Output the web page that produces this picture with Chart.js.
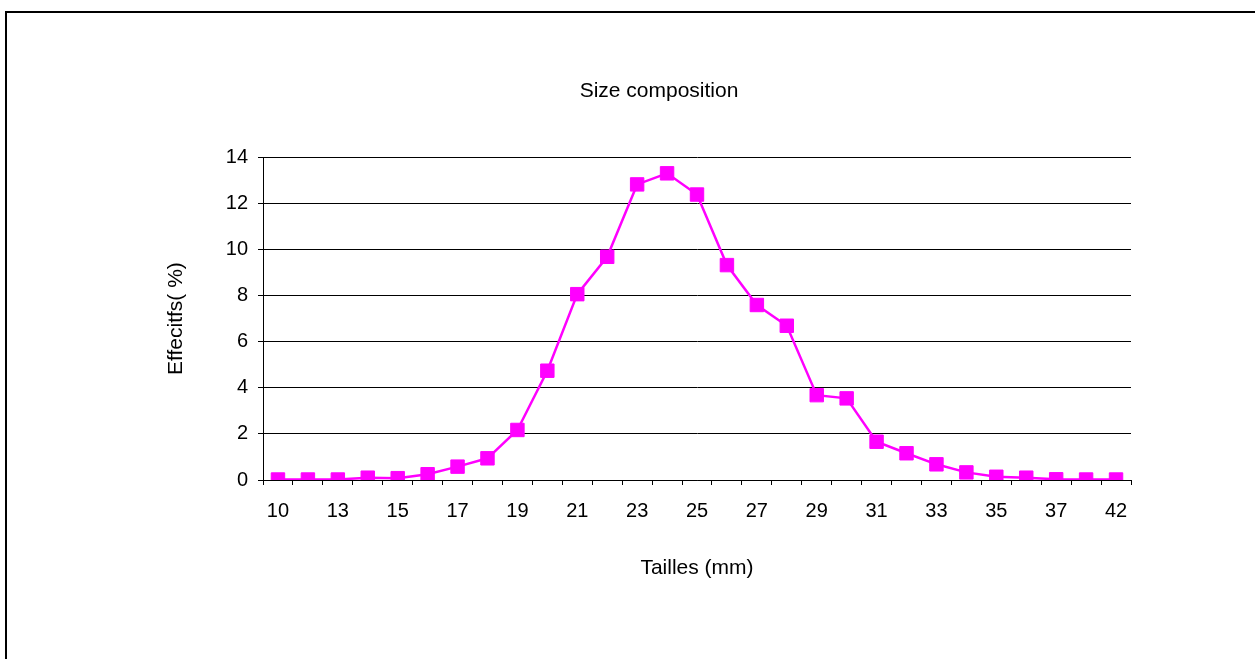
<!DOCTYPE html>
<html>
<head>
<meta charset="utf-8">
<title>Size composition</title>
<script src="https://cdn.jsdelivr.net/npm/chart.js@4/dist/chart.umd.min.js"></script>
<style>
  html, body { margin: 0; padding: 0; background: #fff; overflow: hidden; width: 1255px; height: 659px; }
  #frame { position: absolute; left: 5px; top: 11px; width: 1304px; height: 720px; border: 2px solid #000; }
  #wrap { position: absolute; left: 0; top: 0; width: 1318px; height: 659px; }
</style>
</head>
<body>
<div id="frame"></div>
<div id="wrap"><canvas id="chart"></canvas></div>
<script>
// Size classes (mm) and their share of the sample (%)
const sizes = ['10','12','13','14','15','16','17','18','19','20','21','22','23','24','25',
               '26','27','28','29','30','31','32','33','34','35','36','37','40','42'];
const effectifs = [0.02, 0.02, 0.02, 0.10, 0.08, 0.25, 0.58, 0.94, 2.17, 4.74, 8.06, 9.68, 12.82, 13.30, 12.38,
                   9.32, 7.59, 6.69, 3.68, 3.54, 1.66, 1.16, 0.68, 0.33, 0.14, 0.10, 0.03, 0.02, 0.02];
const yTicks = [0, 2, 4, 6, 8, 10, 12, 14];

const FONT = "'Liberation Sans', Arial, sans-serif";
const TICK_FS = 20;
const TITLE_FS = 21;

new Chart(document.getElementById('chart'), {
  type: 'line',
  data: {
    labels: sizes,
    datasets: [{
      label: 'Effectifs',
      data: effectifs,
      yAxisID: 'y',
      borderColor: '#FF00FF',
      backgroundColor: '#FF00FF',
      borderWidth: 2.5,
      tension: 0,
      pointStyle: 'rect',
      pointRadius: 9.5,
      pointHoverRadius: 9.5,
      pointBorderWidth: 1,
      pointBorderColor: '#FF00FF',
      pointBackgroundColor: '#FF00FF'
    }]
  },
  options: {
    responsive: true,
    maintainAspectRatio: false,
    animation: false,
    layout: { padding: { left: 0, right: 0, top: 0, bottom: 78 } },
    plugins: {
      legend: { display: false },
      tooltip: { enabled: false },
      title: {
        display: true,
        text: 'Size composition',
        color: '#000',
        font: { family: FONT, size: TITLE_FS, weight: 'normal' },
        padding: { top: 79, bottom: 53 }
      }
    },
    scales: {
      x: {
        type: 'category',
        offset: true,
        border: { display: true, color: '#000', width: 1 },
        grid: { display: true, offset: true, drawOnChartArea: false, drawTicks: true, tickLength: 5, color: '#000' },
        ticks: {
          autoSkip: false,
          maxRotation: 0,
          padding: 14,
          color: '#000',
          font: { family: FONT, size: TICK_FS },
          callback: function (v, i) { return i % 2 === 0 ? sizes[i] : ''; }
        },
        title: {
          display: true,
          text: 'Tailles (mm)',
          color: '#000',
          font: { family: FONT, size: TITLE_FS },
          padding: { top: 20, bottom: 0 }
        },
        afterFit: function (axis) { axis.height = 101; }
      },
      y: {
        position: 'left',
        min: 0,
        max: 14,
        border: { display: true, color: '#000', width: 1 },
        grid: { display: true, drawOnChartArea: true, drawTicks: true, tickLength: 5, color: '#000' },
        afterBuildTicks: function (axis) { axis.ticks = yTicks.map(v => ({ value: v })); },
        ticks: {
          padding: 10,
          color: '#000',
          font: { family: FONT, size: TICK_FS }
        },
        title: {
          display: true,
          text: 'Effecitfs( %)',
          color: '#000',
          font: { family: FONT, size: TITLE_FS },
          padding: { top: 164, bottom: 0 }
        },
        afterFit: function (axis) { axis.width = 263; }
      },
      // empty right-hand margin of the plot frame
      margin: {
        position: 'right',
        display: true,
        border: { display: false },
        grid: { display: false },
        ticks: { display: false },
        afterFit: function (axis) { axis.width = 187; }
      }
    }
  }
});
</script>
</body>
</html>
